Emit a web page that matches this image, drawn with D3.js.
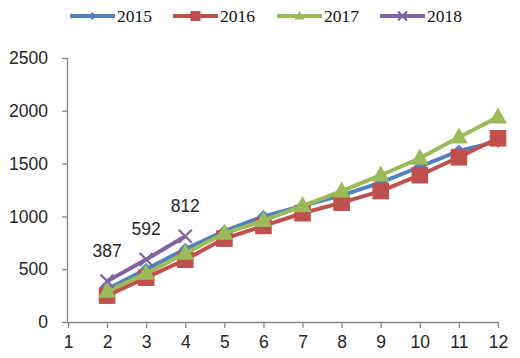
<!DOCTYPE html>
<html><head><meta charset="utf-8">
<script src="https://cdn.jsdelivr.net/npm/d3@7"></script>
<style>body{margin:0;background:#fff}svg{display:block}</style>
</head><body>
<svg id="c" width="520" height="358"></svg>
<script>
const months = [1,2,3,4,5,6,7,8,9,10,11,12];
const seriesNames = ["2015","2016","2017","2018"];
const s2015 = [null,310,500,690,860,1000,1100,1200,1320,1470,1620,1710];
const s2016 = [null,250,420,590,790,910,1030,1130,1240,1390,1560,1740];
const s2017 = [null,290,460,650,840,960,1100,1240,1390,1550,1750,1940];
const s2018 = [null,387,592,812,null,null,null,null,null,null,null,null];
const yTicks = [0,500,1000,1500,2000,2500];
const colors = ["#4F81BD","#C0504D","#9BBB59","#8064A2"];
const symbols = ["diamond","square","triangle","x"];

const svg = d3.select("#c");
const x = d3.scaleLinear().domain([1,12]).range([68,498]);
const y = d3.scaleLinear().domain([0,2500]).range([322,58]);

const yAxis = d3.axisLeft(y).tickValues(yTicks).tickFormat(d3.format("d")).tickSize(6).tickPadding(14);
const gy = svg.append("g").attr("transform","translate(68,0)").call(yAxis);
const xAxis = d3.axisBottom(x).tickValues(months).tickFormat(d3.format("d")).tickSize(6).tickPadding(8);
const gx = svg.append("g").attr("transform","translate(0,322)").call(xAxis);
[gx,gy].forEach(g=>{
  g.selectAll("path,line").attr("stroke","#868686").attr("stroke-width",1.3);
  g.selectAll("text").attr("font-family","'Liberation Sans',Arial,sans-serif")
    .attr("font-size",17.5).attr("fill","#262626");
});
gx.select(".domain").attr("d","M68,0.5H498");
gy.select(".domain").attr("d","M-0.5,58V322");
gx.selectAll("text").attr("dy","0.71em");

const all = [s2015,s2016,s2017,s2018];
const line = d3.line().defined(d=>d!=null).x((d,i)=>x(months[i])).y(d=>y(d));

function marker(g, type, cx, cy, color, size){
  if(type==="diamond"){
    g.append("path").attr("d",`M${cx},${cy-size}L${cx+size},${cy}L${cx},${cy+size}L${cx-size},${cy}Z`).attr("fill",color);
  } else if(type==="square"){
    g.append("rect").attr("x",cx-size).attr("y",cy-size).attr("width",size*2).attr("height",size*2).attr("fill",color);
  } else if(type==="triangle"){
    g.append("path").attr("d",`M${cx},${cy-size*1.15}L${cx+size*1.05},${cy+size*0.75}L${cx-size*1.05},${cy+size*0.75}Z`).attr("fill",color);
  } else {
    g.append("path").attr("d",`M${cx-size},${cy-size}L${cx+size},${cy+size}M${cx-size},${cy+size}L${cx+size},${cy-size}`)
      .attr("stroke",color).attr("stroke-width",2.2).attr("fill","none");
  }
}
const msize = [6.5,8.3,8.5,6.5];
all.forEach((s,k)=>{
  const g = svg.append("g");
  g.append("path").datum(s).attr("d",line).attr("fill","none").attr("stroke",colors[k]).attr("stroke-width",4).attr("stroke-linejoin","round");
  s.forEach((v,i)=>{ if(v!=null) marker(g,symbols[k],x(months[i]),y(v),colors[k],msize[k]); });
});
// data labels 2018
s2018.forEach((v,i)=>{
  if(v==null) return;
  svg.append("text").attr("x",x(months[i])).attr("y",y(v)-24).attr("text-anchor","middle")
    .attr("font-family","'Liberation Sans',Arial,sans-serif").attr("font-size",17.5).attr("fill","#262626").text(v);
});
// legend
const legX = [70,173,277,380];
seriesNames.forEach((n,k)=>{
  const g = svg.append("g");
  g.append("line").attr("x1",legX[k]).attr("x2",legX[k]+45).attr("y1",16).attr("y2",16).attr("stroke",colors[k]).attr("stroke-width",4);
  marker(g,symbols[k],legX[k]+22.5,16,colors[k],[4,5,4.5,4.5][k]);
  g.append("text").attr("x",legX[k]+47).attr("y",22).attr("font-family","'Liberation Serif','Times New Roman',serif")
    .attr("font-size",17.5).attr("fill","#111").text(n);
});
</script>
</body></html>
